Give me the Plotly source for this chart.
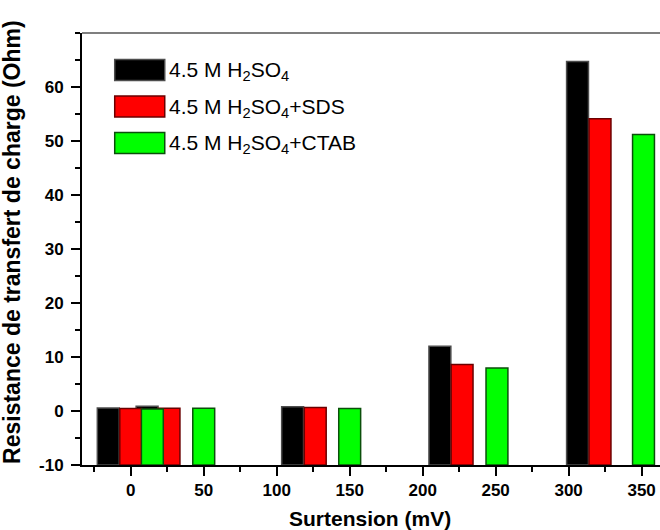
import plotly.graph_objects as go

# Charge-transfer resistance vs. overpotential for three electrolytes
names = [
    "4.5 M H<sub>2</sub>SO<sub>4</sub>",
    "4.5 M H<sub>2</sub>SO<sub>4</sub>+SDS",
    "4.5 M H<sub>2</sub>SO<sub>4</sub>+CTAB",
]
x_h2so4 = [-15.4, 11.2, 110.9, 211.8, 306.1]
r_h2so4 = [0.55, 0.87, 0.80, 12.0, 64.7]
x_sds = [0.0, 26.2, 126.4, 227.0, 321.5]
r_sds = [0.44, 0.50, 0.63, 8.6, 54.1]
x_ctab = [14.8, 50.0, 150.0, 250.9, 351.3]
r_ctab = [0.37, 0.50, 0.44, 7.95, 51.2]

x_ticks = [0, 50, 100, 150, 200, 250, 300, 350]
y_ticks = [-10, 0, 10, 20, 30, 40, 50, 60]

Y_MIN, Y_MAX = -10, 70
X_MIN, X_MAX = -33.4, 362.6
BAR_W = 15

fills = ["#000000", "#ff0000", "#00ff00"]
edges = ["#4d4d4d", "#6b0000", "#0b4f0b"]
FONT = "Arial, Liberation Sans, sans-serif"

fig = go.Figure()
for name, xs, ys, fc, ec in zip(names, [x_h2so4, x_sds, x_ctab],
                                [r_h2so4, r_sds, r_ctab], fills, edges):
    # bars rise from the bottom of the y axis, as in Origin column plots
    fig.add_trace(go.Bar(
        x=xs, y=[v - Y_MIN for v in ys], base=Y_MIN, width=BAR_W,
        customdata=ys, hovertemplate="%{x}: %{customdata} Ohm<extra></extra>",
        marker=dict(color=fc, line=dict(color=ec, width=1.5)),
        name=name, showlegend=False,
    ))

# hand-built legend with wide colour patches
L, R, T, B = 82.3, 660.0, 32.7, 464.8
pw, ph = R - L, B - T
def px_x(v):
    return (v - L) / pw
def px_y(v):
    return (B - v) / ph

row_y = [69.8, 106.3, 142.8]
shapes = []
annotations = []
for name, fc, ec, yc in zip(names, fills, edges, row_y):
    shapes.append(dict(type="rect", xref="paper", yref="paper",
                       x0=px_x(115), x1=px_x(165), y0=px_y(yc + 10.5), y1=px_y(yc - 10.5),
                       fillcolor=fc, line=dict(color=ec, width=1.5)))
    annotations.append(dict(xref="paper", yref="paper", x=px_x(167), y=px_y(yc + 1),
                            xanchor="left", yanchor="middle", showarrow=False,
                            text=name, font=dict(family=FONT, size=21, color="#000")))

# grey top border of the frame
shapes.append(dict(type="line", xref="paper", yref="paper", x0=0, x1=1, y0=1, y1=1,
                   line=dict(color="#7f7f7f", width=2)))

annotations.append(dict(xref="paper", yref="paper", x=px_x(13), y=px_y(242),
                        textangle=-90, showarrow=False, xanchor="center", yanchor="middle",
                        text="<b>Resistance de transfert de charge (Ohm)</b>",
                        font=dict(family=FONT, size=23, color="#000")))
annotations.append(dict(xref="paper", yref="paper", x=px_x(370), y=px_y(518),
                        showarrow=False, xanchor="center", yanchor="middle",
                        text="<b>Surtension (mV)</b>",
                        font=dict(family=FONT, size=21, color="#000")))

axis_common = dict(showgrid=False, zeroline=False, showline=True, linecolor="#000",
                   linewidth=2, ticks="outside", ticklen=9, tickwidth=2, tickcolor="#000",
                   tickfont=dict(family=FONT, size=17, color="#000"))

fig.update_layout(
    width=660, height=530,
    margin=dict(l=L, r=0, t=T, b=530 - B, pad=0),
    paper_bgcolor="white", plot_bgcolor="white",
    barmode="overlay", showlegend=False,
    shapes=shapes, annotations=annotations,
    xaxis=dict(range=[X_MIN, X_MAX], tickvals=x_ticks,
               ticktext=[f"<b>{t}</b>" for t in x_ticks],
               minor=dict(ticks="outside", ticklen=5, tickwidth=2, tickcolor="#000",
                          tick0=0, dtick=25),
               **axis_common),
    yaxis=dict(range=[Y_MIN, Y_MAX], tickvals=y_ticks,
               ticktext=[f"<b>{t}</b>" for t in y_ticks],
               ticklabelstandoff=4,
               minor=dict(ticks="outside", ticklen=5, tickwidth=2, tickcolor="#000",
                          tick0=0, dtick=5),
               **axis_common),
)

fig.write_html("out.html")
